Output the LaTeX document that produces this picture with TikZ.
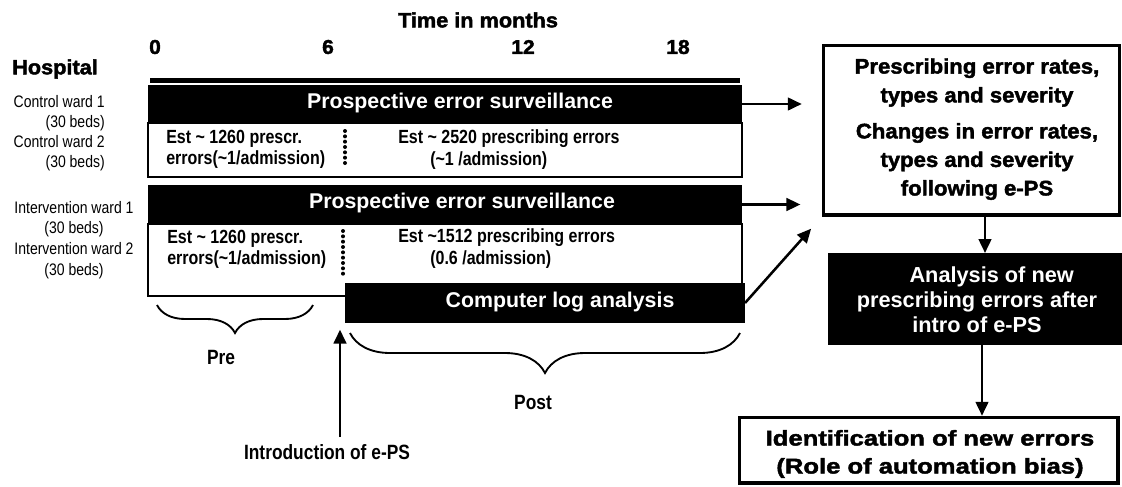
\documentclass[tikz,border=0pt]{standalone}
\usepackage{fontspec}
\setmainfont{Liberation Sans}
\newfontfamily\heavy[FakeBold=2,FakeStretch=1.05]{Liberation Sans Bold}
\newfontfamily\heavywide[FakeBold=2,FakeStretch=1.2]{Liberation Sans Bold}
\newfontfamily\narrow[FakeStretch=0.84]{Liberation Sans}
\usetikzlibrary{arrows.meta,fit,decorations.pathreplacing}
\begin{document}
\begin{tikzpicture}[x=0.75pt,y=-0.75pt,
  bar/.style={fill=black,inner sep=0pt,outer sep=0pt},
  panel/.style={draw=black,line width=1.8pt,fill=white,inner sep=0pt},
  framebox/.style={draw=black,line width=2.6pt,inner sep=0pt},
  whitetxt/.style={text=white,font=\bfseries\fontsize{16}{19}\selectfont,inner sep=0pt},
  esttxt/.style={font=\narrow\bfseries\fontsize{14.3}{16}\selectfont,align=left,inner sep=0pt},
  wardtxt/.style={font=\narrow\fontsize{12.5}{15}\selectfont,inner sep=0pt},
  heavytxt/.style={font=\heavy\fontsize{15}{21.6}\selectfont,align=center,inner sep=0pt},
  captxt/.style={font=\narrow\bfseries\fontsize{15.5}{18}\selectfont,inner sep=0pt},
  arr/.style={line width=1.9pt,-{Triangle[length=10.5pt,width=9.5pt]}},
  dots/.style={line width=3pt,line cap=round,dash pattern=on 0pt off 4pt},
  brc/.style={line width=1.4pt,decorate,decoration={brace,mirror,amplitude=#1}}
]
\useasboundingbox (0,0) rectangle (1122,486);

% time axis
\node[heavytxt,font=\heavy\fontsize{15.5}{17}\selectfont] (tim) at (478,20) {Time in months};
\node[heavytxt] (t0) at (155,47) {0};
\node[heavytxt] (t6) at (328,47) {6};
\node[heavytxt] (t12) at (523,47) {12};
\node[heavytxt] (t18) at (678,47) {18};
\node[bar,fit={(150,78)(740,83)}] (tbar) {};
\node[heavytxt,font=\heavy\fontsize{15.5}{17}\selectfont] (hos) at (55,69) {Hospital};

% ward labels
\node[wardtxt,align=right,anchor=east] (cw) at (105,133)
  {Control ward 1\\(30 beds)\\Control ward 2\\(30 beds)};
\node[wardtxt,align=center,font=\narrow\fontsize{12.5}{15.5}\selectfont] (iw) at (74,240)
  {Intervention ward 1\\(30 beds)\\Intervention ward 2\\(30 beds)};

% control wards
\node[panel,fit={(148,123)(742,177)}] (cp) {};
\node[bar,fit={(148,85)(742,123)}] (ch) {};
\node[whitetxt] (chl) at (460,103) {Prospective error surveillance};
\node[esttxt,anchor=west] (c1) at (166,149.5)
  {Est \textasciitilde{} 1260 prescr.\\errors(\textasciitilde1/admission)};
\node[esttxt,anchor=west] (c2) at (398,149.5)
  {Est \textasciitilde{} 2520 prescribing errors\\\hspace*{24pt}(\textasciitilde1 /admission)};
\draw[dots] (345,131) -- (345,167);

% intervention wards
\node[panel,fit={(148,224)(742,296)}] (ip) {};
\node[bar,fit={(148,185)(742,224)}] (ih) {};
\node[whitetxt] (ihl) at (462,203) {Prospective error surveillance};
\node[esttxt,anchor=west] (i1) at (167,249.5)
  {Est \textasciitilde{} 1260 prescr.\\errors(\textasciitilde1/admission)};
\node[esttxt,anchor=west] (i2) at (398,248.5)
  {Est \textasciitilde1512 prescribing errors\\\hspace*{24pt}(0.6 /admission)};
\draw[dots] (343,231) -- (343,277);
\node[bar,fit={(345,283)(745,323)}] (cl) {};
\node[whitetxt] (cll) at (560,302) {Computer log analysis};

% pre / post periods
\draw[brc=21pt] (157,305) -- (313,305);
\node[captxt] (pre) at (221,357) {Pre};
\draw[brc=30pt] (350,333) -- (740,333);
\node[captxt] (post) at (533,402) {Post};
\node[captxt] (itxt) at (327,452) {Introduction of e-PS};
\coordinate (ibase) at (340,437);
\draw[arr,shorten >=5pt] (ibase) -- (ibase |- cl.south);

% outcome boxes
\node[framebox,fit={(823.5,45.5)(1119.5,215)}] (big) {};
\node[heavytxt,font=\heavy\fontsize{15.8}{21.6}\selectfont] (r1) at (977,82.5) {Prescribing error rates,\\types and severity};
\node[heavytxt,font=\heavy\fontsize{15.8}{21.4}\selectfont] (r2) at (977,161.5)
  {Changes in error rates,\\types and severity\\following e-PS};
\node[bar,fit={(828,253)(1122,345)}] (an) {};
\node[text=white,font=\bfseries\fontsize{16.3}{18.75}\selectfont,align=center,inner sep=0pt] (anl) at (977,300)
  {\hspace*{22pt}Analysis of new\\prescribing errors after\\intro of e-PS};
\node[framebox,fit={(739.5,417.5)(1118,483)}] (idb) {};
\node[heavytxt,font=\heavywide\fontsize{16}{21}\selectfont] (idl) at (930,454)
  {Identification of new errors\\(Role of automation bias)};

% connectors
\draw[arr,shorten >=15pt] (ch.east) -- (ch.east -| big.west);
\draw[arr,shorten >=16pt] (ih.east) -- (ih.east -| big.west);
\draw[arr,shorten >=12pt] (cl.east) -- (big.south west);
\coordinate (ax) at (985,0);
\draw[arr] (big.south -| ax) -- (an.north -| ax);
\coordinate (bx) at (982,0);
\draw[arr] (an.south -| bx) -- (idb.north -| bx);
\end{tikzpicture}
\end{document}
